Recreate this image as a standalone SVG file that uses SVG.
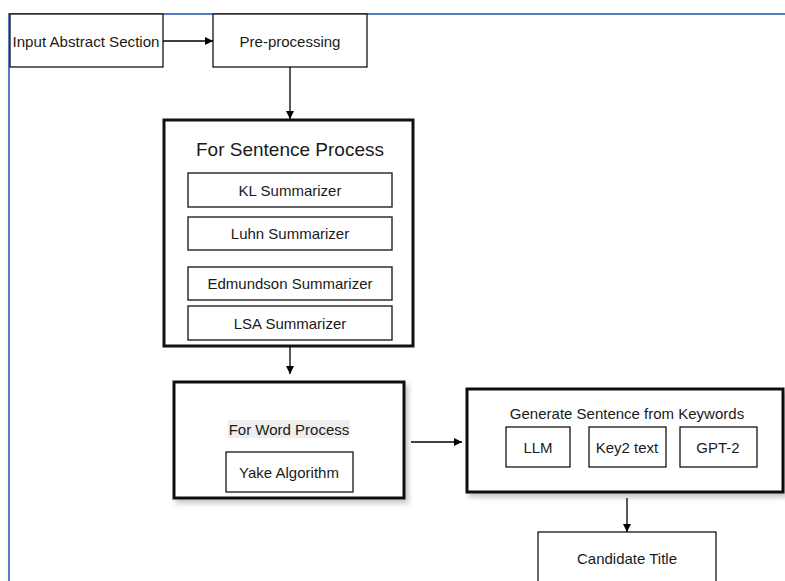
<svg xmlns="http://www.w3.org/2000/svg" width="785" height="581" viewBox="0 0 785 581">
<style>
text{font-family:"Liberation Sans",Arial,sans-serif;font-size:15px;fill:#1a1a1a;text-anchor:middle;dominant-baseline:central}
.box{fill:#fff;stroke:#000;stroke-width:1.2}
.inner{fill:#fff;stroke:#222;stroke-width:1.4}
.thick{fill:#fff;stroke:#111;stroke-width:3}
.conn{stroke:#000;stroke-width:1.3;fill:none}
.title{font-size:19px}
</style>
<defs>
<marker id="arr" viewBox="0 0 10 10" refX="10" refY="5" markerWidth="8" markerHeight="8" markerUnits="userSpaceOnUse" orient="auto">
<path d="M0,0 L10,5 L0,10 Z" fill="#000"/>
</marker>
<filter id="sh" x="-10%" y="-10%" width="130%" height="130%">
<feDropShadow dx="3" dy="4" stdDeviation="2.5" flood-color="#000" flood-opacity="0.22"/>
</filter>
</defs>
<rect x="9" y="14" width="800" height="600" fill="none" stroke="#4472C4" stroke-width="1.8"/>

<g id="input">
<rect class="box" x="10" y="14" width="153" height="53"/>
<text x="86" y="41" textLength="147" lengthAdjust="spacingAndGlyphs">Input Abstract Section</text>
</g>
<g id="preprocessing">
<rect class="box" x="213" y="14" width="154" height="53"/>
<text x="290" y="41">Pre-processing</text>
</g>
<g id="sentence">
<rect class="thick" x="164" y="120" width="249" height="226"/>
<text class="title" x="290" y="149">For Sentence Process</text>
<g id="kl"><rect class="inner" x="188" y="173" width="204" height="34"/><text x="290" y="190">KL Summarizer</text></g>
<g id="luhn"><rect class="inner" x="188" y="217" width="204" height="33"/><text x="290" y="233.5">Luhn Summarizer</text></g>
<g id="edmundson"><rect class="inner" x="188" y="267" width="204" height="33"/><text x="290" y="283.5">Edmundson Summarizer</text></g>
<g id="lsa"><rect class="inner" x="188" y="306" width="204" height="34"/><text x="290" y="323">LSA Summarizer</text></g>
</g>
<g id="word">
<rect class="thick" x="174" y="382" width="230" height="116" filter="url(#sh)"/>
<rect x="228" y="420" width="122" height="18" fill="#eeeeee"/>
<text x="289" y="429">For Word Process</text>
<g id="yake"><rect class="box" x="226" y="452" width="127" height="40"/><text x="289" y="472">Yake Algorithm</text></g>
</g>
<g id="generate">
<rect class="thick" x="467" y="389" width="316" height="103" filter="url(#sh)"/>
<text x="627" y="413">Generate Sentence from Keywords</text>
<g id="llm"><rect class="box" x="506" y="427" width="64" height="40"/><text x="538" y="447">LLM</text></g>
<g id="key2text"><rect class="box" x="589" y="427" width="77" height="40"/><text x="627" y="447">Key2 text</text></g>
<g id="gpt2"><rect class="box" x="680" y="427" width="77" height="40"/><text x="718" y="447">GPT-2</text></g>
</g>
<g id="candidate">
<rect class="box" x="538" y="532" width="178" height="80"/>
<text x="627" y="558">Candidate Title</text>
</g>

<g id="connectors">
<line class="conn" x1="163" y1="41" x2="213" y2="41" marker-end="url(#arr)"/>
<line class="conn" x1="290" y1="67" x2="290" y2="119" marker-end="url(#arr)"/>
<line class="conn" x1="290" y1="347" x2="290" y2="374" marker-end="url(#arr)"/>
<line class="conn" x1="411" y1="442" x2="462" y2="442" marker-end="url(#arr)"/>
<line class="conn" x1="627" y1="498" x2="627" y2="532" marker-end="url(#arr)"/>
</g>
</svg>
